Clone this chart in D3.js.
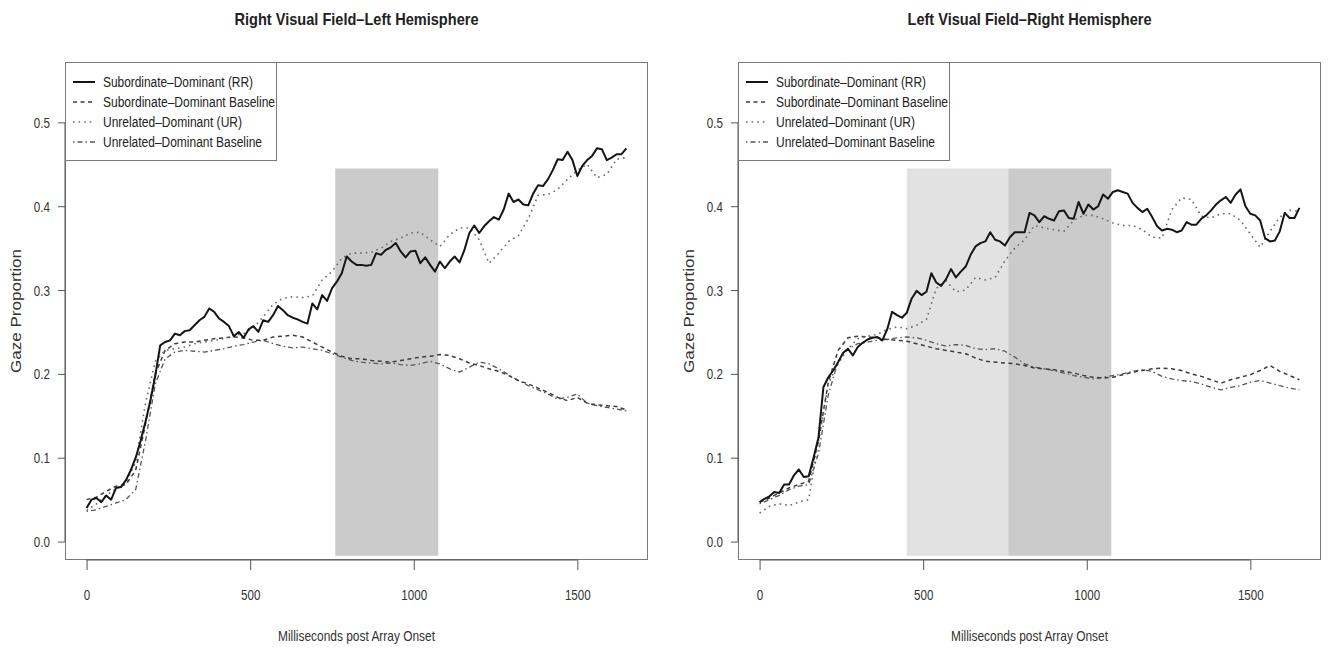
<!DOCTYPE html>
<html>
<head>
<meta charset="utf-8">
<script src="https://cdn.jsdelivr.net/npm/d3@7"></script>
<style>
  html, body { margin: 0; padding: 0; background: #fff; }
  svg { display: block; font-family: "Liberation Sans", Arial, Helvetica, sans-serif; }
</style>
</head>
<body>
<svg id="chart" width="1329" height="651"></svg>
<script>
// ---------------------------------------------------------------
// Data: gaze proportion over time (ms after array onset)
// Solid traces are sampled every 15 ms, the others every 30 ms.
// ---------------------------------------------------------------
const FINE_STEP = 15;
const COARSE_STEP = 30;

const panelTitles = ["Right Visual Field\u2013Left Hemisphere", "Left Visual Field\u2013Right Hemisphere"];
const seriesNames = [
  "Subordinate\u2013Dominant (RR)",
  "Subordinate\u2013Dominant Baseline",
  "Unrelated\u2013Dominant (UR)",
  "Unrelated\u2013Dominant Baseline"
];
const xLabel = "Milliseconds post Array Onset";
const yLabel = "Gaze Proportion";
const xTicks = [0, 500, 1000, 1500];
const yTicks = [0, 0.1, 0.2, 0.3, 0.4, 0.5];
const yTickLabels = ["0.0", "0.1", "0.2", "0.3", "0.4", "0.5"];
const xDomain = [0, 1650];
const yDomain = [0, 0.55];

// analysis windows (ms)
const leftWindows = [{ from: 760, to: 1075, kind: "late" }];
const rightWindows = [{ from: 450, to: 760, kind: "early" }, { from: 760, to: 1075, kind: "late" }];
const windowTop = 0.445;
const windowBottom = -0.017;

// Right visual field - left hemisphere
const leftRR = [
  0.040, 0.050, 0.052, 0.047, 0.055, 0.050, 0.064, 0.065, 0.073, 0.085,
  0.100, 0.120, 0.143, 0.168, 0.198, 0.234, 0.238, 0.240, 0.248, 0.246,
  0.251, 0.252, 0.258, 0.264, 0.268, 0.278, 0.274, 0.266, 0.262, 0.257,
  0.245, 0.250, 0.243, 0.253, 0.257, 0.250, 0.264, 0.262, 0.270, 0.281,
  0.276, 0.270, 0.267, 0.265, 0.262, 0.260, 0.284, 0.277, 0.294, 0.287,
  0.302, 0.310, 0.320, 0.340, 0.334, 0.330, 0.330, 0.329, 0.330, 0.344,
  0.342, 0.348, 0.351, 0.356, 0.346, 0.339, 0.346, 0.347, 0.332, 0.339,
  0.330, 0.322, 0.334, 0.326, 0.334, 0.340, 0.333, 0.348, 0.368, 0.377,
  0.368, 0.376, 0.382, 0.387, 0.384, 0.396, 0.415, 0.405, 0.408, 0.402,
  0.401, 0.415, 0.425, 0.424, 0.432, 0.443, 0.456, 0.455, 0.465, 0.455,
  0.436, 0.448, 0.455, 0.460, 0.469, 0.468, 0.455, 0.458, 0.462, 0.462,
  0.469
];
const leftRRBaseline = [
  0.050, 0.053, 0.060, 0.066, 0.068, 0.085, 0.140, 0.200, 0.228, 0.236,
  0.238, 0.238, 0.240, 0.242, 0.243, 0.244, 0.243, 0.240, 0.240, 0.244,
  0.245, 0.246, 0.244, 0.238, 0.232, 0.226, 0.221, 0.218, 0.218, 0.216,
  0.215, 0.214, 0.216, 0.218, 0.220, 0.221, 0.223, 0.222, 0.218, 0.213,
  0.210, 0.206, 0.203, 0.198, 0.192, 0.188, 0.183, 0.178, 0.172, 0.168,
  0.172, 0.165, 0.163, 0.162, 0.161, 0.157
];
const leftUR = [
  0.037, 0.045, 0.055, 0.063, 0.070, 0.095, 0.165, 0.215, 0.228, 0.230,
  0.232, 0.236, 0.238, 0.240, 0.242, 0.246, 0.248, 0.255, 0.268, 0.283,
  0.290, 0.292, 0.291, 0.293, 0.312, 0.322, 0.338, 0.344, 0.344, 0.345,
  0.350, 0.358, 0.362, 0.368, 0.369, 0.360, 0.352, 0.366, 0.374, 0.374,
  0.360, 0.332, 0.344, 0.358, 0.365, 0.385, 0.413, 0.414, 0.420, 0.432,
  0.443, 0.450, 0.434, 0.438, 0.456, 0.458
];
const leftURBaseline = [
  0.036, 0.038, 0.042, 0.046, 0.050, 0.062, 0.120, 0.188, 0.218, 0.226,
  0.228, 0.227, 0.226, 0.228, 0.230, 0.233, 0.235, 0.238, 0.240, 0.236,
  0.233, 0.231, 0.232, 0.230, 0.228, 0.224, 0.220, 0.216, 0.214, 0.213,
  0.212, 0.213, 0.211, 0.210, 0.212, 0.215, 0.212, 0.206, 0.202, 0.208,
  0.214, 0.212, 0.206, 0.199, 0.192, 0.186, 0.181, 0.176, 0.170, 0.172,
  0.176, 0.165, 0.162, 0.160, 0.158, 0.156
];

// Left visual field - right hemisphere
const rightRR = [
  0.047, 0.051, 0.054, 0.059, 0.058, 0.068, 0.068, 0.079, 0.086, 0.077,
  0.078, 0.100, 0.124, 0.184, 0.196, 0.204, 0.214, 0.225, 0.230, 0.222,
  0.232, 0.237, 0.241, 0.243, 0.244, 0.240, 0.253, 0.274, 0.270, 0.267,
  0.273, 0.290, 0.299, 0.294, 0.298, 0.320, 0.309, 0.305, 0.313, 0.325,
  0.315, 0.322, 0.328, 0.342, 0.352, 0.356, 0.358, 0.369, 0.360, 0.358,
  0.353, 0.363, 0.369, 0.369, 0.369, 0.392, 0.389, 0.381, 0.388, 0.385,
  0.383, 0.394, 0.395, 0.386, 0.385, 0.405, 0.391, 0.402, 0.396, 0.400,
  0.414, 0.409, 0.417, 0.419, 0.417, 0.415, 0.404, 0.398, 0.393, 0.397,
  0.387, 0.376, 0.371, 0.373, 0.372, 0.369, 0.371, 0.381, 0.378, 0.378,
  0.385, 0.389, 0.395, 0.402, 0.407, 0.411, 0.404, 0.414, 0.420, 0.400,
  0.391, 0.389, 0.383, 0.362, 0.358, 0.359, 0.370, 0.392, 0.386, 0.386,
  0.398
];
const rightRRBaseline = [
  0.047, 0.052, 0.058, 0.064, 0.068, 0.072, 0.120, 0.190, 0.228, 0.243,
  0.245, 0.244, 0.243, 0.241, 0.240, 0.239, 0.236, 0.233, 0.230, 0.228,
  0.226, 0.224, 0.219, 0.215, 0.214, 0.213, 0.212, 0.210, 0.207, 0.206,
  0.205, 0.203, 0.201, 0.198, 0.196, 0.195, 0.196, 0.199, 0.202, 0.204,
  0.206, 0.207, 0.206, 0.204, 0.200, 0.197, 0.193, 0.189, 0.193, 0.196,
  0.199, 0.204, 0.210, 0.203, 0.198, 0.193
];
const rightUR = [
  0.034, 0.042, 0.045, 0.043, 0.047, 0.050, 0.120, 0.188, 0.212, 0.230,
  0.242, 0.245, 0.247, 0.253, 0.256, 0.254, 0.258, 0.265, 0.302, 0.311,
  0.298, 0.300, 0.315, 0.312, 0.315, 0.335, 0.350, 0.360, 0.377, 0.374,
  0.372, 0.370, 0.383, 0.389, 0.389, 0.385, 0.380, 0.377, 0.377, 0.372,
  0.363, 0.362, 0.396, 0.410, 0.408, 0.388, 0.386, 0.391, 0.391, 0.383,
  0.367, 0.351, 0.370, 0.387, 0.395, 0.394
];
const rightURBaseline = [
  0.045, 0.050, 0.055, 0.062, 0.066, 0.068, 0.105, 0.175, 0.215, 0.230,
  0.236, 0.238, 0.240, 0.241, 0.243, 0.244, 0.243, 0.240, 0.236, 0.233,
  0.235, 0.234, 0.230, 0.229, 0.230, 0.227, 0.220, 0.212, 0.208, 0.206,
  0.204, 0.201, 0.198, 0.196, 0.194, 0.196, 0.198, 0.200, 0.203, 0.205,
  0.203, 0.197, 0.194, 0.192, 0.191, 0.188, 0.184, 0.181, 0.184, 0.186,
  0.190, 0.192, 0.189, 0.186, 0.183, 0.181
];

// ---------------------------------------------------------------
// Layout and styles
// ---------------------------------------------------------------
const svg = d3.select("#chart");
const plotTop = 62, plotBottom = 560;
const boxes = [{ x0: 65, x1: 648 }, { x0: 738, x1: 1321 }];
const windowTones = { early: "#e2e2e2", late: "#cbcbcb" };

const lineStyles = [
  { stroke: "#151515", width: 2.0, dash: null },            // RR
  { stroke: "#3c3c3c", width: 1.5, dash: "4,3.5" },         // RR baseline
  { stroke: "#6a6a6a", width: 1.6, dash: "1.6,4" },         // UR
  { stroke: "#575757", width: 1.3, dash: "1.5,3,5,3" }      // UR baseline
];

// widths (px) the condensed labels occupy
const titleWidth = 244;
const xLabelWidth = 157;
const yLabelLength = 124;
const legendTextWidths = [150, 172, 139, 159];
const tickCondense = 0.83;

function fitWidth(sel, w) {
  sel.attr("textLength", w).attr("lengthAdjust", "spacingAndGlyphs");
}

function toPoints(values, step) {
  return values.map((v, i) => [i * step, v]);
}

const panels = [
  {
    title: panelTitles[0],
    windows: leftWindows,
    series: [
      toPoints(leftRR, FINE_STEP),
      toPoints(leftRRBaseline, COARSE_STEP),
      toPoints(leftUR, COARSE_STEP),
      toPoints(leftURBaseline, COARSE_STEP)
    ]
  },
  {
    title: panelTitles[1],
    windows: rightWindows,
    series: [
      toPoints(rightRR, FINE_STEP),
      toPoints(rightRRBaseline, COARSE_STEP),
      toPoints(rightUR, COARSE_STEP),
      toPoints(rightURBaseline, COARSE_STEP)
    ]
  }
];

function drawPanel(panel, box) {
  const g = svg.append("g");
  // R-style 4% padding around the data range
  const xPad = (xDomain[1] - xDomain[0]) * 0.04;
  const yPad = (yDomain[1] - yDomain[0]) * 0.04;
  const x = d3.scaleLinear().domain([xDomain[0] - xPad, xDomain[1] + xPad]).range([box.x0, box.x1]);
  const y = d3.scaleLinear().domain([yDomain[0] - yPad, yDomain[1] + yPad]).range([plotBottom, plotTop]);
  const cx = (box.x0 + box.x1) / 2;

  // shaded analysis windows
  g.selectAll("rect.window")
    .data(panel.windows)
    .join("rect")
    .attr("class", "window")
    .attr("x", d => x(d.from))
    .attr("width", d => x(d.to) - x(d.from))
    .attr("y", y(windowTop))
    .attr("height", y(windowBottom) - y(windowTop))
    .attr("fill", d => windowTones[d.kind]);

  // data lines, baselines first, solid trace on top
  const line = d3.line().x(d => x(d[0])).y(d => y(d[1]));
  [3, 1, 2, 0].forEach(i => {
    const s = lineStyles[i];
    g.append("path")
      .datum(panel.series[i])
      .attr("d", line)
      .attr("fill", "none")
      .attr("stroke", s.stroke)
      .attr("stroke-width", s.width)
      .attr("stroke-linejoin", "round")
      .attr("stroke-dasharray", s.dash);
  });

  // plot frame
  g.append("rect")
    .attr("x", box.x0 + 0.5).attr("y", plotTop + 0.5)
    .attr("width", box.x1 - box.x0 - 1).attr("height", plotBottom - plotTop - 1)
    .attr("fill", "none").attr("stroke", "#7a7a7a").attr("stroke-width", 1);

  // y axis
  const yAxis = g.append("g").attr("transform", `translate(${box.x0},0)`)
    .call(d3.axisLeft(y).tickValues(yTicks).tickSize(7).tickPadding(8)
      .tickFormat((d, i) => yTickLabels[i]));
  yAxis.select(".domain").remove();
  yAxis.append("line")
    .attr("x1", 0).attr("x2", 0)
    .attr("y1", y(yTicks[0])).attr("y2", y(yTicks[yTicks.length - 1]))
    .attr("stroke", "#555");
  yAxis.selectAll(".tick line").attr("stroke", "#555");
  yAxis.selectAll(".tick text")
    .attr("font-size", 14).attr("fill", "#333")
    .attr("font-family", "Liberation Sans, Arial, sans-serif")
    .attr("dy", "0.36em")
    .each(function () { fitWidth(d3.select(this), this.getComputedTextLength() * tickCondense); });

  // x axis
  const xAxis = g.append("g").attr("transform", `translate(0,${plotBottom})`)
    .call(d3.axisBottom(x).tickValues(xTicks).tickSize(10).tickPadding(28)
      .tickFormat(d3.format("d")));
  xAxis.select(".domain").remove();
  xAxis.append("line")
    .attr("x1", x(xTicks[0])).attr("x2", x(xTicks[xTicks.length - 1]))
    .attr("y1", 0).attr("y2", 0)
    .attr("stroke", "#555");
  xAxis.selectAll(".tick line").attr("stroke", "#555");
  xAxis.selectAll(".tick text")
    .attr("font-size", 14).attr("fill", "#333")
    .attr("font-family", "Liberation Sans, Arial, sans-serif")
    .attr("y", 40).attr("dy", 0)
    .each(function () { fitWidth(d3.select(this), this.getComputedTextLength() * tickCondense); });

  // title
  g.append("text")
    .attr("x", cx).attr("y", 25)
    .attr("text-anchor", "middle")
    .attr("font-size", 17).attr("font-weight", "bold").attr("fill", "#222")
    .text(panel.title)
    .call(fitWidth, titleWidth);

  // axis titles
  g.append("text")
    .attr("x", cx).attr("y", 641)
    .attr("text-anchor", "middle")
    .attr("font-size", 14.5).attr("fill", "#333")
    .text(xLabel)
    .call(fitWidth, xLabelWidth);

  g.append("text")
    .attr("transform", `translate(${box.x0 - 44},${(plotTop + plotBottom) / 2}) rotate(-90)`)
    .attr("text-anchor", "middle")
    .attr("font-size", 14.5).attr("fill", "#333")
    .text(yLabel)
    .call(fitWidth, yLabelLength);

  // legend
  const lg = g.append("g").attr("transform", `translate(${box.x0},${plotTop})`);
  lg.append("rect")
    .attr("x", 0.5).attr("y", 0.5)
    .attr("width", 211).attr("height", 98)
    .attr("fill", "#fff").attr("stroke", "#7a7a7a");
  seriesNames.forEach((name, i) => {
    const cy = 20 + i * 20;
    const s = lineStyles[i];
    lg.append("line")
      .attr("x1", 8).attr("x2", 30).attr("y1", cy).attr("y2", cy)
      .attr("stroke", s.stroke).attr("stroke-width", s.width)
      .attr("stroke-dasharray", s.dash);
    lg.append("text")
      .attr("x", 38).attr("y", cy + 5)
      .attr("font-size", 14).attr("fill", "#222")
      .text(name)
      .call(fitWidth, legendTextWidths[i]);
  });
}

panels.forEach((p, i) => drawPanel(p, boxes[i]));
</script>
</body>
</html>
